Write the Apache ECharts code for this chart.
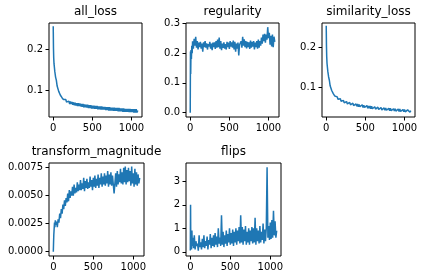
<!DOCTYPE html>
<html><head><meta charset="utf-8">
<script src="https://cdn.jsdelivr.net/npm/echarts@6/dist/echarts.min.js"></script>
<style>html,body{margin:0;padding:0;background:#fff}#c{width:425px;height:280px}</style>
</head><body><div id="c"></div>
<script>
const steps = [0,3,6,10,15,20,25,30,
40,50,60,70,80,90,100,110,120,130,
140,150,160,170,180,190,200,210,220,230,
240,250,260,270,280,290,300,310,320,330,
340,350,360,370,380,390,400,410,420,430,
440,450,460,470,480,490,500,510,520,530,
540,550,560,570,580,590,600,610,620,630,
640,650,660,670,680,690,700,710,720,730,
740,750,760,770,780,790,800,810,820,830,
840,850,860,870,880,890,900,910,920,930,
940,950,960,970,980,990,1000,1010,1020,1030,
1040,1050,1060,1070,1080];

const allLoss = [0.257,0.205,0.180,0.165,0.156,0.146,0.139,0.132,
0.124,0.110,0.107,0.097,0.097,0.088,0.089,0.082,0.084,0.077,
0.080,0.074,0.077,0.071,0.075,0.069,0.073,0.066,0.072,0.066,
0.071,0.064,0.070,0.063,0.069,0.062,0.068,0.061,0.068,0.061,
0.067,0.060,0.066,0.059,0.066,0.058,0.065,0.058,0.064,0.057,
0.064,0.056,0.063,0.056,0.063,0.055,0.062,0.055,0.062,0.054,
0.061,0.054,0.061,0.053,0.060,0.053,0.060,0.052,0.060,0.052,
0.059,0.052,0.059,0.051,0.058,0.051,0.058,0.050,0.058,0.050,
0.057,0.050,0.057,0.049,0.057,0.049,0.056,0.049,0.056,0.048,
0.056,0.048,0.055,0.048,0.055,0.047,0.055,0.047,0.054,0.047,
0.054,0.047,0.054,0.046,0.054,0.046,0.053,0.046,0.053,0.045,
0.053,0.045,0.053,0.045,0.050];

const regularity = [0.000,0.205,0.130,0.210,0.180,0.225,0.200,0.240,
0.215,0.248,0.225,0.255,0.218,0.240,0.212,0.235,0.220,0.238,
0.215,0.232,0.205,0.236,0.220,0.240,0.218,0.233,0.212,0.230,
0.222,0.238,0.215,0.232,0.210,0.235,0.220,0.236,0.214,0.240,
0.218,0.245,0.220,0.252,0.215,0.240,0.210,0.232,0.218,0.236,
0.215,0.230,0.212,0.238,0.220,0.235,0.214,0.240,0.222,0.236,
0.218,0.242,0.212,0.238,0.205,0.232,0.215,0.235,0.192,0.228,
0.222,0.240,0.218,0.255,0.225,0.246,0.220,0.240,0.216,0.238,
0.220,0.236,0.214,0.242,0.218,0.238,0.222,0.240,0.212,0.235,
0.220,0.240,0.215,0.245,0.218,0.240,0.225,0.252,0.232,0.262,
0.240,0.265,0.235,0.262,0.245,0.287,0.250,0.268,0.228,0.258,
0.222,0.262,0.220,0.255,0.238];

const similarityLoss = [0.255,0.205,0.178,0.160,0.150,0.140,0.133,0.126,
0.117,0.103,0.101,0.091,0.091,0.083,0.084,0.077,0.079,0.072,
0.075,0.069,0.072,0.066,0.070,0.064,0.068,0.061,0.066,0.060,
0.065,0.058,0.063,0.057,0.062,0.056,0.061,0.055,0.060,0.054,
0.059,0.053,0.058,0.052,0.057,0.051,0.057,0.050,0.056,0.050,
0.055,0.049,0.055,0.048,0.054,0.048,0.053,0.047,0.053,0.046,
0.052,0.046,0.052,0.045,0.051,0.045,0.050,0.044,0.050,0.044,
0.049,0.043,0.049,0.043,0.048,0.042,0.048,0.042,0.047,0.042,
0.047,0.041,0.047,0.041,0.046,0.040,0.046,0.040,0.046,0.040,
0.045,0.039,0.045,0.039,0.045,0.039,0.044,0.038,0.044,0.038,
0.044,0.038,0.043,0.038,0.043,0.037,0.043,0.037,0.042,0.037,
0.042,0.037,0.042,0.036,0.040];

const transformMagnitude = [0.0000,0.0008,0.0015,0.0020,0.0026,0.0022,0.0028,0.0024,
0.0027,0.0022,0.0029,0.0026,0.0034,0.0030,0.0038,0.0034,0.0042,0.0038,
0.0046,0.0041,0.0048,0.0044,0.0052,0.0045,0.0055,0.0048,0.0054,0.0050,
0.0058,0.0050,0.0060,0.0052,0.0057,0.0053,0.0062,0.0054,0.0060,0.0055,
0.0064,0.0055,0.0061,0.0056,0.0066,0.0054,0.0063,0.0057,0.0065,0.0056,
0.0062,0.0057,0.0067,0.0058,0.0064,0.0055,0.0066,0.0058,0.0068,0.0057,
0.0065,0.0059,0.0069,0.0057,0.0066,0.0060,0.0070,0.0058,0.0067,0.0060,
0.0070,0.0059,0.0068,0.0061,0.0072,0.0058,0.0069,0.0060,0.0071,0.0059,
0.0068,0.0060,0.0052,0.0061,0.0070,0.0058,0.0072,0.0060,0.0069,0.0062,
0.0074,0.0061,0.0071,0.0060,0.0075,0.0062,0.0076,0.0060,0.0073,0.0062,
0.0075,0.0063,0.0072,0.0059,0.0076,0.0061,0.0070,0.0058,0.0074,0.0060,
0.0071,0.0059,0.0069,0.0061,0.0066];

const flips = [0.05,2.00,0.30,0.85,0.10,0.90,0.25,0.60,
0.15,0.70,0.10,0.45,0.25,0.35,0.05,0.70,0.20,0.40,
0.10,0.55,0.20,0.70,0.15,0.45,0.25,0.65,0.10,0.50,
0.30,0.75,0.15,0.60,0.25,0.70,0.20,0.80,0.30,0.65,
0.20,1.00,0.35,0.60,0.25,1.55,0.30,0.85,0.20,0.70,
0.35,0.90,0.25,0.75,0.40,1.00,0.30,0.80,0.35,0.95,
0.25,0.85,0.40,1.00,0.30,0.90,0.45,1.05,0.35,1.55,
0.40,1.05,0.30,0.95,0.45,1.10,0.30,0.85,0.40,1.00,
0.30,0.90,0.45,1.05,0.35,1.00,0.40,1.45,0.30,1.00,
0.45,0.90,0.35,1.10,0.40,0.85,0.50,1.20,0.35,0.95,
0.45,1.00,3.60,0.60,1.10,0.50,1.25,0.55,1.35,0.60,
1.75,0.70,1.30,0.60,0.90];

const titles = ['all_loss','regularity','similarity_loss','transform_magnitude','flips'];
const seriesValues = [allLoss, regularity, similarityLoss, transformMagnitude, flips];
const xTicks = [0,500,1000];
const yTicks = [[0.1,0.2],[0,0.1,0.2,0.3],[0.1,0.2],[0,0.0025,0.005,0.0075],[0,1,2,3]];
const yDecimals = [1,1,1,4,0];
const yRanges = [[0.034,0.265],[-0.0144,0.301],[0.024,0.262],[-0.00038,0.00792],[-0.18,3.78]];
const xRange = [-54,1134];

// layout (px): left, top, width, height
const boxes = [[49,23,93,94],[186,23,93,94],[322,23,93,94],[49,163,95,93],[186,163,95,93]];
const FONT = 'DejaVu Sans';

const grid = [], xAxis = [], yAxis = [], series = [], title = [];
boxes.forEach((b, i) => {
  grid.push({left:b[0], top:b[1], width:b[2], height:b[3], show:true, borderColor:'#000', borderWidth:1, backgroundColor:'transparent', containLabel:false});
  title.push({text:titles[i], left:b[0]+b[2]/2, top:b[1]-17, textAlign:'center', padding:0,
    textStyle:{fontFamily:FONT, fontSize:12, fontWeight:'normal', color:'#000'}});
  xAxis.push({gridIndex:i, type:'value', min:xRange[0], max:xRange[1],
    axisLine:{show:false, onZero:false},
    axisTick:{show:true, customValues:xTicks, length:3.5, lineStyle:{color:'#000', width:1}},
    axisLabel:{customValues:xTicks, margin:6, color:'#000', fontFamily:FONT, fontSize:10,
      formatter: v => String(Math.round(v))},
    splitLine:{show:false}});
  const d = yDecimals[i];
  yAxis.push({gridIndex:i, type:'value', min:yRanges[i][0], max:yRanges[i][1],
    axisLine:{show:false, onZero:false},
    axisTick:{show:true, customValues:yTicks[i], length:3.5, lineStyle:{color:'#000', width:1}},
    axisLabel:{customValues:yTicks[i], margin:6, color:'#000', fontFamily:FONT, fontSize:10,
      formatter: v => Number(v).toFixed(d)},
    splitLine:{show:false}});
  series.push({type:'line', xAxisIndex:i, yAxisIndex:i, showSymbol:false, symbol:'none',
    lineStyle:{color:'#1f77b4', width:1.5}, clip:true, animation:false,
    data: steps.map((s, k) => [s, seriesValues[i][k]])});
});

const chart = echarts.init(document.getElementById('c'), null, {renderer:'canvas'});
chart.setOption({animation:false, backgroundColor:'#fff', title, grid, xAxis, yAxis, series});
</script>
</body></html>
